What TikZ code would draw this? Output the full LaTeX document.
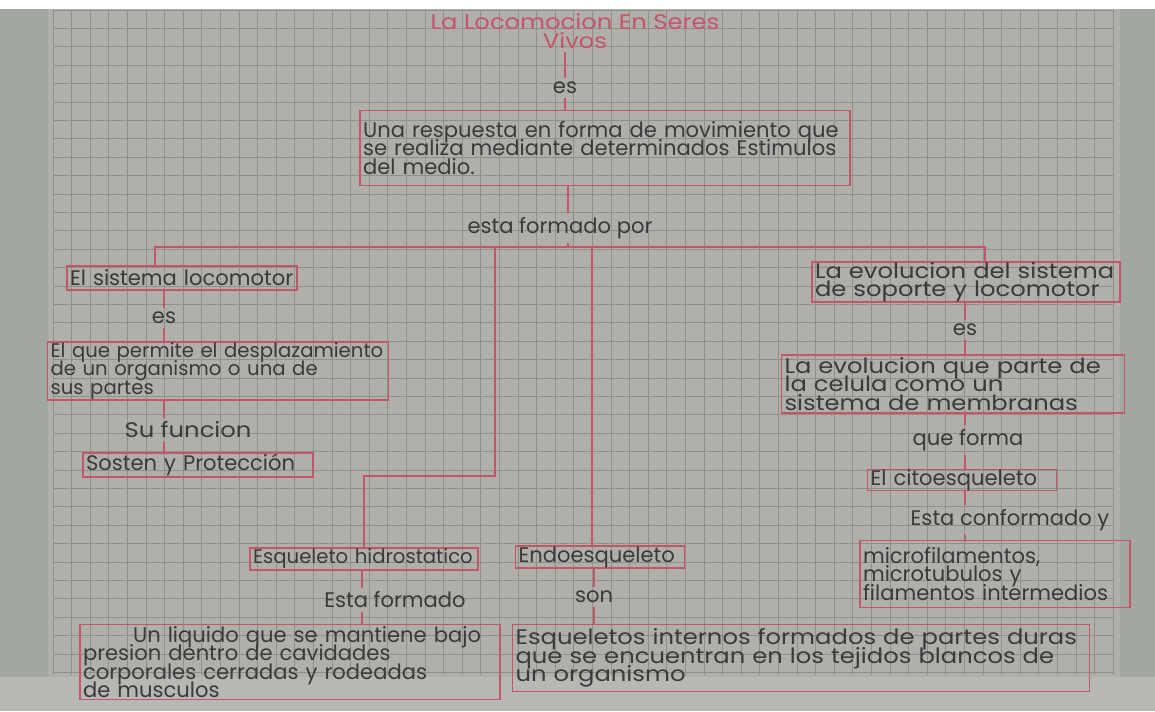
\documentclass[tikz,border=0pt]{standalone}
\usepackage{fontspec}
\setmainfont{Poppins}
\newfontfamily\anchafam{Poppins}[FakeStretch=1.15]
\definecolor{rojo}{HTML}{C4566A}
\definecolor{tinta}{HTML}{3A3A3C}
\definecolor{cuadro}{HTML}{90908A}
\definecolor{papel}{HTML}{B0AFAA}
\definecolor{fondo}{HTML}{A2A8A1}
\definecolor{orilla}{HTML}{B5B8B3}
\newcommand\mano{\fontsize{12}{10.5}\selectfont\lineskiplimit=-20pt\hyphenpenalty=10000}
\newcommand\ancho{\anchafam\fontsize{12}{10.5}\selectfont\lineskiplimit=-20pt\hyphenpenalty=10000}
\newcommand\estrecho{\fontsize{11.2}{10.5}\selectfont\lineskiplimit=-20pt\hyphenpenalty=10000}

\begin{document}
\begin{tikzpicture}[x=0.02cm,y=-0.02cm,
  marco/.style={draw=rojo,line width=0.8pt,inner xsep=0.06cm,inner ysep=0pt,align=left,font=\mano,text=tinta},
  rotulo/.style={inner sep=2pt,font=\mano,text=tinta},
  liga/.style={draw=rojo,line width=0.8pt},
  cuadricula/.style={draw=cuadro,line width=0.45pt}]
  \useasboundingbox (0,0) rectangle (1155,711);
  % hoja y cuadricula
  \fill[fondo] (0,0) rectangle (1155,711);
  \fill[white] (0,0) rectangle (1155,9);
  \fill[papel] (48,9) rectangle (1120,711);
  \fill[orilla] (0,677) rectangle (1155,711);
  \foreach \i in {0,...,57}
    \draw[cuadricula] ({53+18.6*\i},10) -- ({53+18.6*\i},675);
  \foreach \j in {0,...,36}
    \draw[cuadricula] (53,{10+18.4*\j}) -- (1113,{10+18.4*\j});

  % conceptos
  \node[rotulo,font=\ancho,text=rojo,align=center] (titulo) at (575,31) {La Locomocion En Seres\\Vivos};
  \node[rotulo] (es1) at (565,88) {es};
  \node[marco,text width=9.68cm,minimum height=1.5cm] (resp) at (605,148) {Una respuesta en forma de movimiento que\\se realiza mediante determinados Estimulos\\del medio.};
  \node[rotulo] (formado) at (560,228) {esta formado por};

  \node[marco,text width=4.48cm,minimum height=0.48cm] (locomotor) at (182,278) {El sistema locomotor};
  \node[rotulo] (es2) at (164,318) {es};
  \node[marco,font=\estrecho,text width=6.7cm,minimum height=1.16cm] (despl) at (218,371) {El que permite el desplazamiento\\de un organismo o una de\\sus partes};
  \node[rotulo,font=\ancho] (funcion) at (188,430) {Su funcion};
  \node[marco,text width=4.48cm,minimum height=0.48cm] (sosten) at (198,465) {Sosten y Protección};

  \node[marco,font=\ancho,text width=6.04cm,minimum height=0.8cm] (evsist) at (966,282) {La evolucion del sistema\\de soporte y locomotor};
  \node[rotulo] (es3) at (965,330) {es};
  \node[marco,font=\ancho,text width=6.74cm,minimum height=1.16cm] (evcel) at (953,384) {La evolucion que parte de\\la celula como un\\sistema de membranas};
  \node[rotulo] (queforma) at (968,440) {que forma};
  \node[marco,text width=3.66cm,minimum height=0.4cm] (cito) at (962,480) {El citoesqueleto};
  \node[rotulo] (conform) at (1010,520) {Esta conformado y};
  \node[marco,text width=5.28cm,minimum height=1.34cm] (micro) at (995,574) {microfilamentos,\\microtubulos y\\filamentos intermedios};

  \node[marco,font=\estrecho,text width=4.44cm,minimum height=0.44cm] (hidro) at (364,559) {Esqueleto hidrostatico};
  \node[marco,text width=3.26cm,minimum height=0.44cm] (endo) at (600,557) {Endoesqueleto};
  \node[rotulo] (estaform) at (395,600) {Esta formado};
  \node[rotulo] (son) at (594,597) {son};
  \node[marco,text width=8.28cm,minimum height=1.5cm] (liquido) at (290,662) {\hspace*{1cm}Un liquido que se mantiene bajo\\presion dentro de cavidades\\corporales cerradas y rodeadas\\de musculos};
  \node[marco,font=\ancho,text width=11.42cm,minimum height=1.34cm] (internos) at (801,658) {Esqueletos internos formados de partes duras\\que se encuentran en los tejidos blancos de\\un organismo};

  % ejes de las ligas
  \coordinate (bus) at (568,247);
  \coordinate (busL) at (155,247);
  \coordinate (busR) at (985,247);
  \coordinate (busM) at (495,247);
  \coordinate (busE) at (592,247);
  \coordinate (codo) at (364,476);
  \coordinate (ejeR) at (965,0);
  \coordinate (ejeH) at (362,0);

  % ligas
  \draw[liga] (es1.north |- titulo.south) -- (es1.north);
  \draw[liga] (es1.south) -- (es1.south |- resp.north);
  \draw[liga] (bus |- resp.south) -- (bus |- formado.north);
  \draw[liga] (bus |- formado.south) -- (bus);
  \draw[liga] (busL |- locomotor.north) -- (busL) -- (busR) -- (busR |- evsist.north);
  \draw[liga] (busM) |- (codo) -- (hidro.north);
  \draw[liga] (busE) -- (busE |- endo.north);

  \draw[liga] (es2.north |- locomotor.south) -- (es2.north);
  \draw[liga] (es2.south) -- (es2.south |- despl.north);
  \draw[liga] (es2.south |- despl.south) -- (es2.south |- funcion.north);
  \draw[liga] (es2.south |- funcion.south) -- (es2.south |- sosten.north);

  \draw[liga] (ejeR |- evsist.south) -- (ejeR |- es3.north);
  \draw[liga] (ejeR |- es3.south) -- (ejeR |- evcel.north);
  \draw[liga] (ejeR |- evcel.south) -- (ejeR |- queforma.north);
  \draw[liga] (ejeR |- queforma.south) -- (ejeR |- cito.north);
  \draw[liga] (ejeR |- cito.south) -- (ejeR |- conform.north);
  \draw[liga] (ejeR |- conform.south) -- (ejeR |- micro.north);

  \draw[liga] (ejeH |- hidro.south) -- (ejeH |- estaform.north);
  \draw[liga] (ejeH |- estaform.south) -- (ejeH |- liquido.north);
  \draw[liga] (son.north |- endo.south) -- (son.north);
  \draw[liga] (son.south) -- (son.south |- internos.north);
\end{tikzpicture}
\end{document}
